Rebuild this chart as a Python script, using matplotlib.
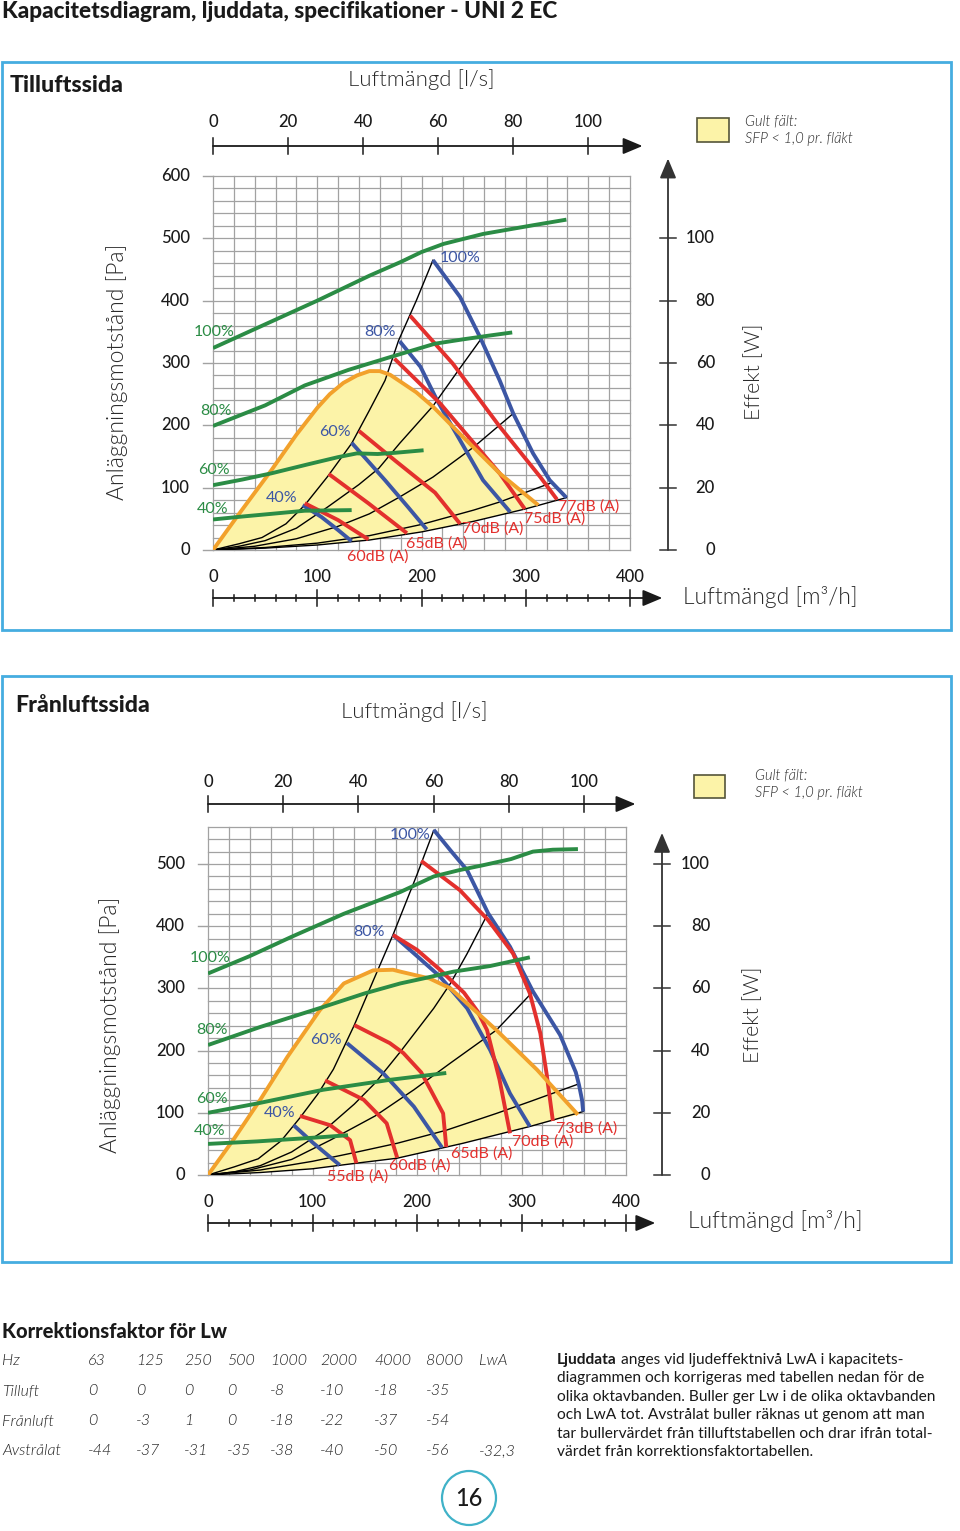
import numpy as np
import matplotlib
matplotlib.use('Agg')
import matplotlib.pyplot as plt
from matplotlib import font_manager
from matplotlib.transforms import blended_transform_factory
from matplotlib.patches import Rectangle, Circle

# ======================= DATA =======================
# --- Tilluftssida (supply side): airflow q [m3/h], pressure p [Pa]
sup_fan100_q = [0, 50, 100, 150, 180, 200, 221, 259, 307, 339]
sup_fan100_p = [324, 362, 400, 440, 462, 478, 491, 507, 521, 530]
sup_fan80_q = [0, 50, 88, 130, 171, 213, 240, 265, 287]
sup_fan80_p = [199, 232, 264, 289, 310, 331, 338, 344, 349]
sup_fan60_q = [0, 28, 56, 90, 120, 138, 158, 175, 202]
sup_fan60_p = [104, 113, 123, 137, 149, 155, 154, 156, 160]
sup_fan40_q = [0, 30, 56, 88, 133]
sup_fan40_p = [49, 54, 58, 63, 64]

sup_sys1_q = [0, 25, 47, 70, 88, 110, 133, 150, 165, 178, 195, 211]
sup_sys1_p = [0, 10, 20, 42, 72, 118, 171, 224, 272, 336, 400, 465]
sup_sys2_q = [0, 25, 50, 80, 110, 140, 159, 179, 211, 234, 256]
sup_sys2_p = [0, 6, 15, 35, 69, 105, 131, 171, 231, 285, 336]
sup_sys3_q = [0, 40, 80, 120, 150, 179, 211, 250, 288]
sup_sys3_p = [0, 6, 18, 38, 58, 85, 117, 165, 219]
sup_sys4_q = [0, 50, 100, 150, 200, 250, 275, 325]
sup_sys4_p = [0, 4, 11, 23, 41, 64, 77, 108]
sup_sys5_q = [0, 50, 100, 150, 200, 250, 300, 339]
sup_sys5_p = [0, 3, 8, 16, 29, 46, 66, 84]

sup_spd100_q = [211, 237, 256, 275, 288, 307, 323, 339]
sup_spd100_p = [465, 406, 342, 272, 219, 155, 112, 84]
sup_spd80_q = [179, 199, 215, 237, 259, 285]
sup_spd80_p = [335, 294, 240, 176, 112, 61]
sup_spd60_q = [133, 165, 187, 205]
sup_spd60_p = [172, 112, 69, 33]
sup_spd40_q = [86, 104, 120, 133]
sup_spd40_p = [72, 53, 32, 14]

sup_snd60_q = [88, 120, 149]
sup_snd60_p = [75, 48, 17]
sup_snd65_q = [111, 149, 186]
sup_snd65_p = [122, 75, 27]
sup_snd70_q = [140, 175, 213, 237]
sup_snd70_p = [191, 143, 92, 42]
sup_snd75_q = [174, 218, 250, 275, 299]
sup_snd75_p = [307, 235, 172, 123, 66]
sup_snd77_q = [189, 230, 275, 314, 330]
sup_snd77_p = [376, 299, 198, 117, 81]

sup_sfp_q = [0, 25, 56, 80, 100, 112, 125, 138, 150, 160, 170, 179, 195, 211, 243, 275, 312]
sup_sfp_p = [0, 58, 128, 185, 228, 250, 268, 280, 287, 287, 281, 271, 253, 230, 176, 123, 72]

# --- Frånluftssida (exhaust side)
exh_fan100_q = [0, 40, 80, 130, 184, 216, 240, 263, 290, 311, 330, 354]
exh_fan100_p = [324, 352, 383, 420, 455, 480, 490, 498, 508, 520, 523, 524]
exh_fan80_q = [0, 50, 110, 150, 184, 206, 235, 270, 308]
exh_fan80_p = [209, 238, 270, 292, 308, 316, 327, 336, 350]
exh_fan60_q = [0, 47, 110, 174, 228]
exh_fan60_p = [100, 115, 137, 153, 164]
exh_fan40_q = [0, 47, 110, 134]
exh_fan40_p = [50, 54, 61, 64]

exh_sys1_q = [0, 25, 48, 70, 88, 105, 120, 140, 158, 177, 200, 216]
exh_sys1_p = [0, 13, 26, 55, 92, 130, 170, 241, 312, 386, 483, 554]
exh_sys2_q = [0, 25, 50, 80, 110, 140, 160, 184, 216, 232, 248, 268]
exh_sys2_p = [0, 5, 15, 37, 70, 114, 148, 198, 268, 308, 356, 421]
exh_sys3_q = [0, 40, 80, 117, 160, 197, 232, 276, 311]
exh_sys3_p = [0, 8, 25, 56, 95, 137, 180, 233, 295]
exh_sys4_q = [0, 50, 100, 140, 181, 228, 276, 308, 354]
exh_sys4_p = [0, 8, 22, 36, 51, 72, 99, 118, 146]
exh_sys5_q = [0, 50, 100, 142, 181, 244, 308, 359]
exh_sys5_p = [0, 4, 10, 19, 27, 51, 78, 102]

exh_spd100_q = [216, 232, 248, 268, 289, 311, 337, 352, 355, 358, 359]
exh_spd100_p = [555, 522, 490, 421, 367, 295, 225, 165, 145, 120, 102]
exh_spd80_q = [177, 200, 222, 248, 270, 289, 308]
exh_spd80_p = [386, 352, 319, 268, 201, 131, 78]
exh_spd60_q = [133, 168, 197, 224]
exh_spd60_p = [212, 163, 110, 44]
exh_spd40_q = [82, 101, 126]
exh_spd40_p = [80, 51, 16]

exh_snd55_q = [88, 117, 136, 142]
exh_snd55_p = [95, 80, 56, 19]
exh_snd60_q = [112, 149, 171, 181]
exh_snd60_p = [152, 121, 83, 28]
exh_snd65_q = [140, 174, 187, 204, 213, 225, 228]
exh_snd65_p = [241, 212, 196, 165, 137, 99, 45]
exh_snd70_q = [177, 200, 222, 245, 258, 267, 279, 289]
exh_snd70_p = [386, 362, 330, 293, 263, 233, 153, 67]
exh_snd73_q = [204, 241, 268, 292, 308, 318, 324, 330]
exh_snd73_p = [505, 458, 410, 356, 292, 228, 163, 87]

exh_sfp_q = [0, 24, 50, 76, 107, 130, 158, 177, 184, 212, 232, 276, 315, 354]
exh_sfp_p = [0, 56, 121, 190, 265, 308, 329, 330, 327, 316, 300, 233, 169, 97]

# --- axes
pressure_ticks_sup = [0, 100, 200, 300, 400, 500, 600]
pressure_ticks_exh = [0, 100, 200, 300, 400, 500]
flow_m3h_ticks = [0, 100, 200, 300, 400]
flow_m3h_minor = [0, 20, 40, 60, 80, 100, 120, 140, 160, 180, 200, 220, 240, 260, 280, 300, 320, 340, 360, 380, 400]
flow_lps_ticks = [0, 20, 40, 60, 80, 100]
power_ticks = [0, 20, 40, 60, 80, 100]
LPS_TO_M3H = 3.6
PA_PER_W = 5.0

fan_labels = ['100%', '80%', '60%', '40%']
sup_db_labels = ['60dB (A)', '65dB (A)', '70dB (A)', '75dB (A)', '77dB (A)']
exh_db_labels = ['55dB (A)', '60dB (A)', '65dB (A)', '70dB (A)', '73dB (A)']

# --- correction table
hz_labels = ['63', '125', '250', '500', '1000', '2000', '4000', '8000', 'LwA']
corr_tilluft = ['0', '0', '0', '0', '-8', '-10', '-18', '-35']
corr_franluft = ['0', '-3', '1', '0', '-18', '-22', '-37', '-54']
corr_avstralat = ['-44', '-37', '-31', '-35', '-38', '-40', '-50', '-56', '-32,3']

# ======================= STYLE =======================
GREEN = '#2b8c45'
BLUE = '#3c56a4'
RED = '#e3302d'
ORANGE = '#f2a12b'
YELLOW = '#fcf3a8'
GRID = '#a2a2a2'
BORDER = '#45ade0'
TEAL = '#40b2c8'
INK = '#1a1a1a'

names = {f.name for f in font_manager.fontManager.ttflist}


def fam_with(cands, weight, style='normal'):
    for fam in cands:
        for f in font_manager.fontManager.ttflist:
            if f.name == fam and f.style == style:
                try:
                    w = int(f.weight)
                except Exception:
                    continue
                if w == weight:
                    return fam
    return None


BASE = 'Lato' if 'Lato' in names else 'DejaVu Sans'
LIGHT = fam_with(['Lato', 'Roboto', 'Open Sans', 'Inter'], 300)
LIGHT_W = 300 if LIGHT else 'normal'
LIGHT = LIGHT or BASE
LIGHT_IT = fam_with(['Lato', 'Roboto', 'Open Sans', 'Inter'], 300, 'italic') or BASE
HEAVY_W = 900 if fam_with([BASE], 900) else 'bold'
NUM_W = 500 if fam_with([BASE], 500) else 'normal'

W, H = 960, 1531
fig = plt.figure(figsize=(W / 100, H / 100), dpi=100)
fig.patch.set_facecolor('white')
ov = fig.add_axes([0, 0, 1, 1], zorder=0)
ov.set_xlim(0, W)
ov.set_ylim(H, 0)
ov.axis('off')
PX = ov.transData


def make_axes(left, right, top, bottom, xmax, ymax):
    ax = fig.add_axes([left / W, 1 - bottom / H, (right - left) / W, (bottom - top) / H], zorder=2)
    ax.patch.set_alpha(0)
    for s in ax.spines.values():
        s.set_visible(False)
    ax.set_xticks([])
    ax.set_yticks([])
    for v in range(0, xmax + 1, 20):
        ax.axvline(v, color=GRID, lw=0.9, zorder=0.5, clip_on=False)
    for v in range(0, ymax + 1, 20):
        ax.axhline(v, color=GRID, lw=0.9, zorder=0.5, clip_on=False)
    ax.set_xlim(0, xmax)
    ax.set_ylim(0, ymax)
    return ax


def draw_curves(ax, fans, systems, speeds, sounds, sfp_q, sfp_p):
    low_q, low_p = systems[-1]
    end_q = sfp_q[-1]
    poly_q = list(sfp_q) + [q for q in reversed(low_q) if q < end_q]
    poly_p = list(sfp_p) + [p for q, p in zip(reversed(low_q), reversed(low_p)) if q < end_q]
    ax.fill(poly_q, poly_p, color=YELLOW, lw=0, zorder=1)
    for q, p in systems:
        ax.plot(q, p, color='black', lw=1.0, zorder=2, solid_joinstyle='round')
    for q, p in speeds:
        ax.plot(q, p, color=BLUE, lw=2.8, zorder=3, solid_capstyle='butt', solid_joinstyle='round')
    for q, p in sounds:
        ax.plot(q, p, color=RED, lw=2.8, zorder=4, solid_capstyle='butt', solid_joinstyle='round')
    ax.plot(sfp_q, sfp_p, color=ORANGE, lw=2.8, zorder=5, solid_capstyle='butt', solid_joinstyle='round')
    for q, p in fans:
        ax.plot(q, p, color=GREEN, lw=2.8, zorder=6, solid_capstyle='butt', solid_joinstyle='round')
    ax.set_xlim(0, 400)


def label(ax, x, y, s, color, size=11.5):
    ax.text(x, y, s, color=color, fontsize=size, family=BASE, ha='center', va='center', zorder=8)


def decorate(ax, ymax, p_ticks, grid_left, top_line, top_lab, top_tip, bot_line, bot_lab, bot_tip,
             left_lab_x, right_x, right_lab_x, right_tip):
    tb = blended_transform_factory(ax.transData, PX)
    tl = blended_transform_factory(PX, ax.transData)
    arrow = dict(arrowstyle='-|>,head_length=1.0,head_width=0.42', color=INK, lw=1.3,
                 shrinkA=0, shrinkB=0, mutation_scale=12)
    num = dict(fontsize=12, family=BASE, fontweight=NUM_W, color=INK)
    for v in p_ticks:
        ax.plot([grid_left - 10, grid_left], [v, v], transform=tl, color=GRID, lw=1.0, clip_on=False)
        ax.text(left_lab_x, v, str(v), transform=tl, ha='right', va='center', **num)
    ax.annotate('', xy=(top_tip, top_line), xycoords=tb, xytext=(0, top_line), textcoords=tb,
                arrowprops=arrow, annotation_clip=False)
    for v in flow_lps_ticks:
        q = v * LPS_TO_M3H
        ax.plot([q, q], [top_line - 8, top_line + 8], transform=tb, color=INK, lw=1.1, clip_on=False)
        ax.text(q, top_lab, str(v), transform=tb, ha='center', va='center', **num)
    ax.annotate('', xy=(bot_tip, bot_line), xycoords=tb, xytext=(0, bot_line), textcoords=tb,
                arrowprops=arrow, annotation_clip=False)
    for v in flow_m3h_minor:
        h = 7.7 if v in flow_m3h_ticks else 3.4
        ax.plot([v, v], [bot_line - h, bot_line + h], transform=tb, color=INK, lw=1.1, clip_on=False)
    for v in flow_m3h_ticks:
        ax.text(v, bot_lab, str(v), transform=tb, ha='center', va='center', **num)
    ax.annotate('', xy=(right_x, right_tip), xycoords=tl, xytext=(right_x, 0), textcoords=tl,
                arrowprops=dict(arrow, color='#333333'), annotation_clip=False)
    for v in power_ticks:
        p = v * PA_PER_W
        ax.plot([right_x - 8, right_x + 8], [p, p], transform=tl, color='#333333', lw=1.1, clip_on=False)
        ax.text(right_lab_x, p, str(v), transform=tl, ha='right', va='center', **num)


def light_text(x, y, s, size=16, **kw):
    ov.text(x, y, s, fontsize=size, family=LIGHT, fontweight=LIGHT_W, color='#2a2a2a', **kw)


def legend(x, y, w, h, tx, ty1, ty2):
    ov.add_patch(Rectangle((x, y), w, h, facecolor=YELLOW, edgecolor='#55553a', lw=1.2))
    for ty, s in [(ty1, 'Gult fält:'), (ty2, 'SFP < 1,0 pr. fläkt')]:
        ov.text(tx, ty, s, fontsize=10.5, family=LIGHT_IT, style='italic', fontweight=LIGHT_W,
                color='#2a2a2a', va='center')


# ======================= PAGE TITLE =======================
ov.text(2, 11, 'Kapacitetsdiagram, ljuddata, specifikationer - UNI 2 EC', fontsize=16.3,
        fontweight=HEAVY_W, family=BASE, va='center', ha='left', color=INK)

# ======================= PANEL 1 =======================
ov.add_patch(Rectangle((2, 62), 949, 568, fill=False, edgecolor=BORDER, lw=2.0))
ov.text(10, 86, 'Tilluftssida', fontsize=16.7, fontweight=HEAVY_W, family=BASE, va='center', color=INK)
light_text(421, 80, 'Luftmängd [l/s]', ha='center', va='center')
light_text(117, 372, 'Anläggningsmotstånd [Pa]', size=16.5, rotation=90, ha='center', va='center')
light_text(754, 372, 'Effekt [W]', size=15.5, rotation=90, ha='center', va='center')
light_text(683, 597, 'Luftmängd [m³/h]', size=16.5, ha='left', va='center')
legend(697, 118, 32, 24, 745, 121, 139)

ax1 = make_axes(213, 630, 176, 550, 400, 600)
draw_curves(ax1,
            [(sup_fan100_q, sup_fan100_p), (sup_fan80_q, sup_fan80_p),
             (sup_fan60_q, sup_fan60_p), (sup_fan40_q, sup_fan40_p)],
            [(sup_sys1_q, sup_sys1_p), (sup_sys2_q, sup_sys2_p), (sup_sys3_q, sup_sys3_p),
             (sup_sys4_q, sup_sys4_p), (sup_sys5_q, sup_sys5_p)],
            [(sup_spd100_q, sup_spd100_p), (sup_spd80_q, sup_spd80_p),
             (sup_spd60_q, sup_spd60_p), (sup_spd40_q, sup_spd40_p)],
            [(sup_snd60_q, sup_snd60_p), (sup_snd65_q, sup_snd65_p), (sup_snd70_q, sup_snd70_p),
             (sup_snd75_q, sup_snd75_p), (sup_snd77_q, sup_snd77_p)],
            sup_sfp_q, sup_sfp_p)
ax1.set_ylim(0, 600)
for (x, y), s in zip([(1, 349), (3, 223), (1, 128), (0, 66)], fan_labels):
    label(ax1, x, y, s, GREEN)
for (x, y), s in zip([(237, 468), (160, 349), (117, 189), (66, 83)], fan_labels):
    label(ax1, x, y, s, BLUE)
for (x, y), s in zip([(158, -11), (215, 10), (268, 34), (328, 51), (360, 70)], sup_db_labels):
    label(ax1, x, y, s, RED)
decorate(ax1, 600, pressure_ticks_sup, 213, 146, 122, 412, 598, 577, 431, 190, 668, 715, 628)

# ======================= PANEL 2 =======================
ov.add_patch(Rectangle((2, 676), 949, 586, fill=False, edgecolor=BORDER, lw=2.0))
ov.text(15, 705, 'Frånluftssida', fontsize=16.7, fontweight=HEAVY_W, family=BASE, va='center', color=INK)
light_text(414, 712, 'Luftmängd [l/s]', ha='center', va='center')
light_text(110, 1025, 'Anläggningsmotstånd [Pa]', size=16.5, rotation=90, ha='center', va='center')
light_text(753, 1015, 'Effekt [W]', size=15.5, rotation=90, ha='center', va='center')
light_text(688, 1221, 'Luftmängd [m³/h]', size=16.5, ha='left', va='center')
legend(694, 775, 31, 23, 755, 775, 793)

ax2 = make_axes(208, 626, 826.7, 1175, 400, 560)
draw_curves(ax2,
            [(exh_fan100_q, exh_fan100_p), (exh_fan80_q, exh_fan80_p),
             (exh_fan60_q, exh_fan60_p), (exh_fan40_q, exh_fan40_p)],
            [(exh_sys1_q, exh_sys1_p), (exh_sys2_q, exh_sys2_p), (exh_sys3_q, exh_sys3_p),
             (exh_sys4_q, exh_sys4_p), (exh_sys5_q, exh_sys5_p)],
            [(exh_spd100_q, exh_spd100_p), (exh_spd80_q, exh_spd80_p),
             (exh_spd60_q, exh_spd60_p), (exh_spd40_q, exh_spd40_p)],
            [(exh_snd55_q, exh_snd55_p), (exh_snd60_q, exh_snd60_p), (exh_snd65_q, exh_snd65_p),
             (exh_snd70_q, exh_snd70_p), (exh_snd73_q, exh_snd73_p)],
            exh_sfp_q, exh_sfp_p)
ax2.set_ylim(0, 560)
for (x, y), s in zip([(2, 349), (4, 233), (4, 122), (2, 71)], fan_labels):
    label(ax2, x, y, s, GREEN)
for (x, y), s in zip([(193, 547), (154, 391), (113, 217), (69, 100)], fan_labels):
    label(ax2, x, y, s, BLUE)
for (x, y), s in zip([(143, -2), (203, 16), (262, 34), (320, 53), (362, 74)], exh_db_labels):
    label(ax2, x, y, s, RED)
decorate(ax2, 560, pressure_ticks_exh, 208, 804, 782, 409, 1223, 1202, 428, 185, 662, 710, 550)

# ======================= TABLE & TEXT =======================
ov.text(2, 1332, 'Korrektionsfaktor för Lw', fontsize=14.5, fontweight=HEAVY_W, family=BASE,
        va='center', color=INK)
col_x = [88, 136, 184, 227, 270, 320, 374, 426, 479]
rows = [('Hz', hz_labels), ('Tilluft', corr_tilluft), ('Frånluft', corr_franluft),
        ('Avstrålat', corr_avstralat)]
for i, (name, vals) in enumerate(rows):
    y = 1361 + 30 * i
    ov.text(2, y, name, fontsize=11.5, family=LIGHT_IT, style='italic', fontweight=LIGHT_W,
            color='#222222', va='center')
    for x, v in zip(col_x, vals):
        ov.text(x, y, v, fontsize=11.5, family=LIGHT_IT, style='italic', fontweight=LIGHT_W,
                color='#222222', va='center')

para = ['anges vid ljudeffektnivå LwA i kapacitets-',
        'diagrammen och korrigeras med tabellen nedan för de',
        'olika oktavbanden. Buller ger Lw i de olika oktavbanden',
        'och LwA tot. Avstrålat buller räknas ut genom att man',
        'tar bullervärdet från tilluftstabellen och drar ifrån total-',
        'värdet från korrektionsfaktortabellen.']
para_y = [1360, 1378, 1397, 1415, 1434, 1452]
renderer = fig.canvas.get_renderer()
tb0 = ov.text(557, para_y[0], 'Ljuddata', fontsize=11.2, fontweight='bold', family=BASE,
              va='center', color=INK)
bw = tb0.get_window_extent(renderer=renderer).width
for i, (line, y) in enumerate(zip(para, para_y)):
    x = 557 + (bw + 4 if i == 0 else 0)
    ov.text(x, y, line, fontsize=11.2, family=BASE, va='center', color=INK)

ov.add_patch(Circle((469, 1498), 27, fill=False, edgecolor=TEAL, lw=1.6))
ov.text(469, 1498, '16', fontsize=17, family=BASE, fontweight=NUM_W, ha='center', va='center', color=INK)

fig.savefig('out.png', dpi=100, facecolor='white')
